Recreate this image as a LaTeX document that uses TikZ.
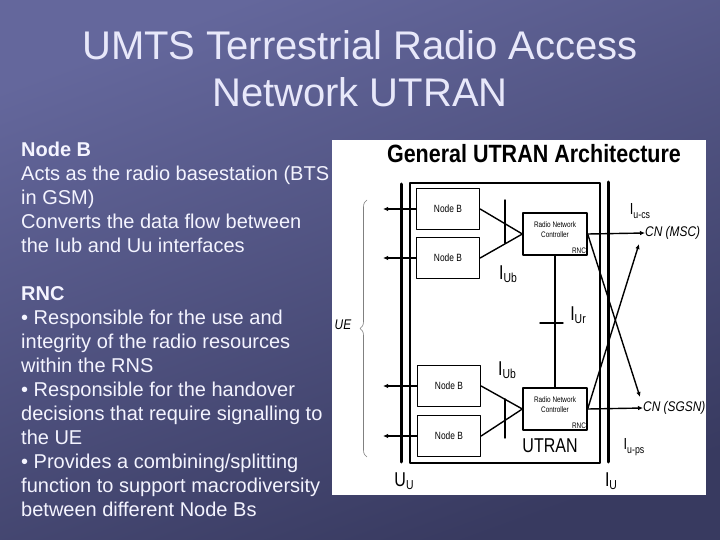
\documentclass[tikz,border=0pt]{standalone}
\usepackage{fontspec}
\setmainfont{Liberation Sans}
\usetikzlibrary{positioning,arrows.meta,decorations.pathreplacing}
\definecolor{slidetop}{RGB}{100,103,156}
\definecolor{slidebot}{RGB}{56,58,96}
\definecolor{slidetext}{RGB}{244,244,255}
\definecolor{titletext}{RGB}{232,232,250}
\newcommand{\narrow}[1]{\scalebox{0.8}[1]{#1}}
\newcommand{\sublab}[3]{#1\raisebox{-3.5pt}{\fontsize{#3}{#3}\selectfont #2}}
\begin{document}
\begin{tikzpicture}[x=1pt,y=-1pt,>={Latex[length=5pt,width=4.5pt]},line join=round,line cap=round,
	nodebox/.style={draw,line width=1.3pt,minimum width=63pt,minimum height=41pt,inner sep=0pt,font=\fontsize{10.5}{10.5}\selectfont},
	rncbox/.style={draw,line width=1.3pt,minimum width=64pt,minimum height=42pt,inner sep=0pt,font=\fontsize{8}{9.5}\selectfont,align=center},
	iflabel/.style={inner sep=0pt,font=\fontsize{20}{20}\selectfont},
	cnlabel/.style={anchor=west,inner sep=0pt,font=\fontsize{14}{14}\selectfont\itshape},
	link/.style={line width=1.4pt},
	thickbar/.style={line width=3pt}]
	\useasboundingbox (0,0) rectangle (720,540);
	\shade[top color=slidetop,bottom color=slidebot,shading angle=20] (0,0) rectangle (720,540);
	\path
	(505,200) coordinate (iubAt) (505,243) coordinate (iubAb)
	(505,399) coordinate (iubBt) (505,438) coordinate (iubBb)
	(540,323) coordinate (iurL) (563,323) coordinate (iurR)
	(401,184) coordinate (uuT) (401,462) coordinate (uuB)
	(608,182) coordinate (iuT) (608,462) coordinate (iuB)
	(639,244) coordinate (mscIn) (640,397) coordinate (sgsnIn)
	(367,457) coordinate (ueB) (367,200) coordinate (ueT)
	(383,0) coordinate (ueArrow)
	;
	\node[titletext,font=\fontsize{40}{40}\selectfont] (title1) at (360,45) {UMTS Terrestrial Radio Access};
	\node[titletext,font=\fontsize{40}{40}\selectfont] (title2) at (360,92) {Network UTRAN};
	\node[slidetext,anchor=north west,inner sep=0pt,align=left,font=\fontsize{20}{24}\selectfont] (notes) at (21,142)
	{\textbf{Node B}\\
		Acts as the radio basestation (BTS\\
		in GSM)\\
		Converts the data flow between\\
		the Iub and Uu interfaces\\[24pt]
		\textbf{RNC}\\
		• Responsible for the use and\\
		integrity of the radio resources\\
		within the RNS\\
		• Responsible for the handover\\
		decisions that require signalling to\\
		the UE\\
		• Provides a combining/splitting\\
		function to support macrodiversity\\
		between different Node Bs};
	\node[fill=white,anchor=north west,inner sep=0pt,minimum width=374pt,minimum height=355pt] (panel) at (332,140) {};
	\node[font=\fontsize{25}{25}\selectfont\bfseries] (archtitle) at (534,154) {\scalebox{0.86}[1]{General UTRAN Architecture}};
	\node[draw,line width=1.6pt,anchor=north west,inner sep=0pt,minimum width=190pt,minimum height=280pt] (utran) at (409,182) {};
	\draw[thickbar] (uuT) -- (uuB) (iuT) -- (iuB);
	\node[nodebox] (nb1) at (448,209) {\narrow{Node B}};
	\node[nodebox] (nb2) at (448,258) {\narrow{Node B}};
	\node[nodebox] (nb3) at (449,386) {\narrow{Node B}};
	\node[nodebox] (nb4) at (449,436) {\narrow{Node B}};
	\node[rncbox] (rnc1) at (555,234) {\narrow{Radio Network}\\\narrow{Controller}\\[-1pt]\mbox{}};
	\node[rncbox] (rnc2) at (555,409) {\narrow{Radio Network}\\\narrow{Controller}\\[-1pt]\mbox{}};
	\foreach \r in {rnc1,rnc2}
	\node[anchor=south east,inner sep=1.5pt,font=\fontsize{8}{8}\selectfont] (\r lbl) at (\r.south east) {\narrow{RNC}};
	\foreach \n in {nb1,nb2,nb3,nb4}
	\draw[link,->] (\n.west) -- (\n.west -| ueArrow);
	\draw[link] (nb1.east) -- (rnc1.west) -- (nb2.east);
	\draw[link] (nb3.east) -- (rnc2.west) -- (nb4.east);
	\draw[link] (iubAt) -- (iubAb) (iubBt) -- (iubBb);
	\draw[link] (rnc1.south) -- (rnc2.north) (iurL) -- (iurR);
	\node[cnlabel] (msc) at (645,233) {\scalebox{0.85}[1]{CN (MSC)}};
	\node[cnlabel] (sgsn) at (643,408) {\scalebox{0.85}[1]{CN (SGSN)}};
	\draw[link,->] (rnc1.east) -- (msc.west);
	\draw[link,->] (rnc2.east) -- (sgsn.west);
	\draw[link,->] (rnc1.east) -- (sgsnIn);
	\draw[link,->] (rnc2.east) -- (mscIn);
	\node[iflabel] (iubA) at (508,274) {\narrow{\sublab{I}{Ub}{13}}};
	\node[iflabel] (iubB) at (507,370) {\narrow{\sublab{I}{Ub}{13}}};
	\node[iflabel] (iur) at (578,315) {\narrow{\sublab{I}{Ur}{13}}};
	\node[iflabel,font=\fontsize{16}{16}\selectfont] (iucs) at (640,211) {\narrow{\sublab{I}{u-cs}{11}}};
	\node[iflabel,font=\fontsize{16}{16}\selectfont] (iups) at (634,447) {\narrow{\sublab{I}{u-ps}{11}}};
	\node[iflabel] (uu) at (404,481) {\narrow{\sublab{U}{U}{13}}};
	\node[iflabel] (iu) at (611,481) {\narrow{\sublab{I}{U}{13}}};
	\node[font=\fontsize{20}{20}\selectfont] (utranlbl) at (550,446) {\narrow{UTRAN}};
	\draw[gray,line width=0.6pt,decorate,decoration={brace,amplitude=7pt}] (ueB) -- (ueT);
	\node[font=\fontsize{14}{14}\selectfont\itshape] (ue) at (343,325) {\scalebox{0.85}[1]{UE}};
\end{tikzpicture}
\end{document}
